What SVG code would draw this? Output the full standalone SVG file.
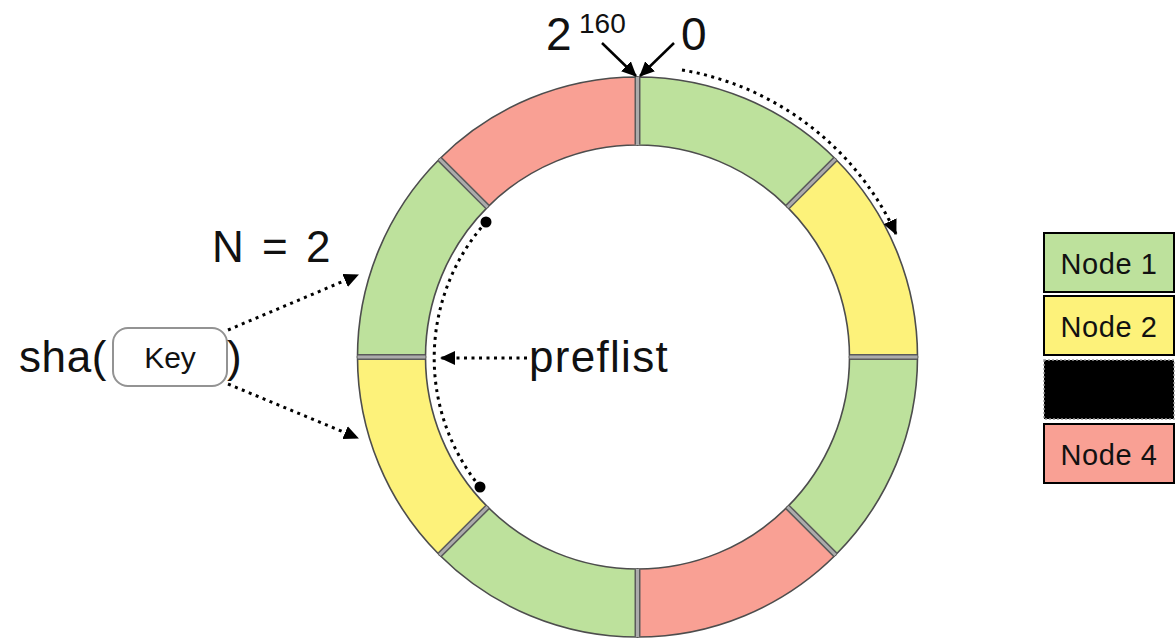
<svg xmlns="http://www.w3.org/2000/svg" width="1175" height="641" viewBox="0 0 1175 641">
<defs>
<style>
.seg{stroke:#4d4d4d;stroke-width:1.6}
.g{fill:#bde19c}.y{fill:#fdf27a}.r{fill:#f9a094}
.divd{stroke:#5a5a5a;stroke-width:6}
.divl{stroke:#ababab;stroke-width:3}
.t{font-family:"Liberation Sans",Arial,sans-serif;fill:#111}
.dot{fill:none;stroke:#000;stroke-width:3;stroke-dasharray:3 4.5}
.sol{fill:none;stroke:#000;stroke-width:2.5}
.leg{stroke:#000;stroke-width:2}
</style>
<marker id="ah" markerUnits="userSpaceOnUse" markerWidth="16" markerHeight="14" refX="14" refY="7" orient="auto">
<path d="M0,0 L15,7 L0,14 Z" fill="#000"/>
</marker>
</defs>
<rect width="1175" height="641" fill="#fff"/>
<g id="ring">
<path class="seg g" d="M637.5,77 A280,280 0 0 1 835.49,159.01 L787.41,207.09 A212,212 0 0 0 637.5,145 Z"/>
<path class="seg y" d="M835.49,159.01 A280,280 0 0 1 917.5,357 L849.5,357 A212,212 0 0 0 787.41,207.09 Z"/>
<path class="seg g" d="M917.5,357 A280,280 0 0 1 835.49,554.99 L787.41,506.91 A212,212 0 0 0 849.5,357 Z"/>
<path class="seg r" d="M835.49,554.99 A280,280 0 0 1 637.5,637 L637.5,569 A212,212 0 0 0 787.41,506.91 Z"/>
<path class="seg g" d="M637.5,637 A280,280 0 0 1 439.51,554.99 L487.59,506.91 A212,212 0 0 0 637.5,569 Z"/>
<path class="seg y" d="M439.51,554.99 A280,280 0 0 1 357.5,357 L425.5,357 A212,212 0 0 0 487.59,506.91 Z"/>
<path class="seg g" d="M357.5,357 A280,280 0 0 1 439.51,159.01 L487.59,207.09 A212,212 0 0 0 425.5,357 Z"/>
<path class="seg r" d="M439.51,159.01 A280,280 0 0 1 637.5,77 L637.5,145 A212,212 0 0 0 487.59,207.09 Z"/>
<g class="divd">
<line x1="637.5" y1="77.5" x2="637.5" y2="144.5"/>
<line x1="835.14" y1="159.36" x2="787.76" y2="206.74"/>
<line x1="917" y1="357" x2="850" y2="357"/>
<line x1="835.14" y1="554.64" x2="787.76" y2="507.26"/>
<line x1="637.5" y1="636.5" x2="637.5" y2="569.5"/>
<line x1="439.86" y1="554.64" x2="487.24" y2="507.26"/>
<line x1="358" y1="357" x2="425" y2="357"/>
<line x1="439.86" y1="159.36" x2="487.24" y2="206.74"/>
</g>
<g class="divl">
<line x1="637.5" y1="77" x2="637.5" y2="145"/>
<line x1="835.49" y1="159.01" x2="787.41" y2="207.09"/>
<line x1="917.5" y1="357" x2="849.5" y2="357"/>
<line x1="835.49" y1="554.99" x2="787.41" y2="506.91"/>
<line x1="637.5" y1="637" x2="637.5" y2="569"/>
<line x1="439.51" y1="554.99" x2="487.59" y2="506.91"/>
<line x1="357.5" y1="357" x2="425.5" y2="357"/>
<line x1="439.51" y1="159.01" x2="487.59" y2="207.09"/>
</g>
</g>
<g id="connectors">
<line class="sol" x1="602" y1="43" x2="636" y2="76" marker-end="url(#ah)"/>
<line class="sol" x1="674" y1="43" x2="640" y2="76" marker-end="url(#ah)"/>
<path class="dot" d="M682,70 A289,289 0 0 1 896,234" marker-end="url(#ah)"/>
<path class="dot" d="M486,222 A204.5,204.5 0 0 0 480,487"/>
<circle cx="486" cy="222" r="5.5" fill="#000"/>
<circle cx="480" cy="487" r="5.5" fill="#000"/>
<line class="dot" x1="527" y1="358" x2="441" y2="358" marker-end="url(#ah)"/>
<line class="dot" x1="228" y1="330" x2="358" y2="275" marker-end="url(#ah)"/>
<line class="dot" x1="228" y1="384" x2="358" y2="438" marker-end="url(#ah)"/>
</g>
<g id="labels">
<text class="t" x="546" y="50" font-size="46">2</text>
<text class="t" x="579" y="33" font-size="28">160</text>
<text class="t" x="681" y="50" font-size="46">0</text>
<text class="t" x="212" y="262" font-size="44" word-spacing="6">N = 2</text>
<text class="t" x="529" y="372" font-size="44" letter-spacing="1.3">preflist</text>
</g>
<g id="key">
<text class="t" x="19" y="372" font-size="44" letter-spacing="0.6">sha(</text>
<rect x="113" y="328" width="114" height="58" rx="15" fill="#fff" stroke="#939393" stroke-width="2"/>
<text class="t" x="170" y="368" font-size="30" text-anchor="middle">Key</text>
<text class="t" x="227" y="372" font-size="44">)</text>
</g>
<g id="legend-node1">
<rect class="leg" x="1044" y="233" width="130" height="59" fill="#bde19c"/>
<text class="t" x="1109" y="274" font-size="29" letter-spacing="0.6" text-anchor="middle">Node 1</text>
</g>
<g id="legend-node2">
<rect class="leg" x="1044" y="296" width="130" height="59" fill="#fdf27a"/>
<text class="t" x="1109" y="337" font-size="29" letter-spacing="0.6" text-anchor="middle">Node 2</text>
</g>
<g id="legend-node3">
<rect x="1044" y="360" width="130" height="59" fill="#000" stroke="#999" stroke-width="1.5" stroke-dasharray="2 2"/>
</g>
<g id="legend-node4">
<rect class="leg" x="1044" y="424" width="130" height="59" fill="#f9a094"/>
<text class="t" x="1109" y="465" font-size="29" letter-spacing="0.6" text-anchor="middle">Node 4</text>
</g>
</svg>
